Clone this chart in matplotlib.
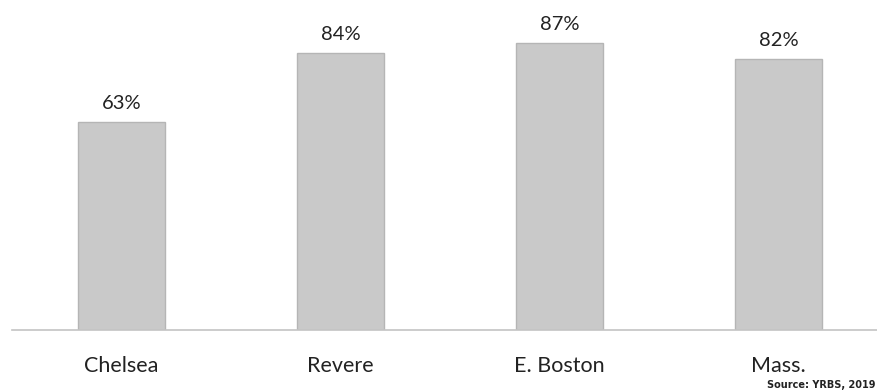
import numpy as np
import matplotlib.pyplot as plt

sites = ['Chelsea', 'Revere', 'E. Boston', 'Mass.']
pct = [63, 84, 87, 82]
value_labels = ['63%', '84%', '87%', '82%']
source = 'Source: YRBS, 2019'

fig = plt.figure(figsize=(8.78, 3.91), dpi=100)
ax = fig.add_axes([12 / 878, 61 / 391, 866 / 878, 330 / 391])

x = np.arange(len(sites))
bars = ax.bar(x, pct, width=0.4, color='#c9c9c9', edgecolor='#b5b5b5', linewidth=1)

for b, lab in zip(bars, value_labels):
    ax.text(b.get_x() + b.get_width() / 2, b.get_height() + 3, lab,
            ha='center', va='bottom', fontsize=14.5, color='#222222', family='Lato')

ax.set_xlim(-0.5, 3.454)
ax.set_ylim(0, 100)
ax.set_yticks([])
ax.set_xticks(x)
ax.set_xticklabels(sites, fontsize=15.5, family='Lato', color='#222222')
ax.tick_params(axis='x', length=0, pad=19)
for s in ['top', 'right', 'left']:
    ax.spines[s].set_visible(False)
ax.spines['bottom'].set_color('#c4c4c4')
ax.spines['bottom'].set_linewidth(1.2)

# source note, squeezed into the bottom-right corner
fig.text(876 / 878, 1 / 391, source, fontsize=7, fontweight='bold',
         family='DejaVu Sans', color='#222222', ha='right', va='bottom')

fig.savefig('out.png', dpi=100)
